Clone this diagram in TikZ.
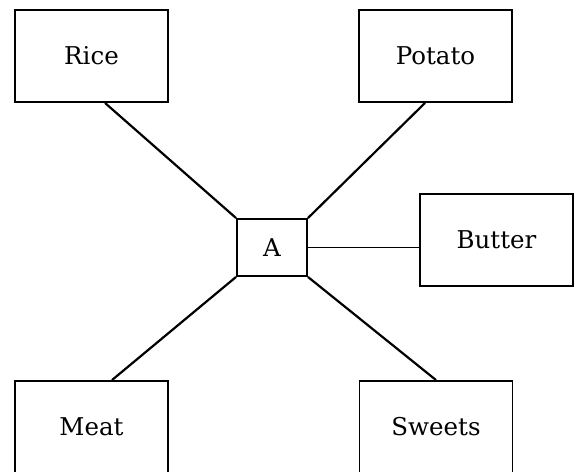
\documentclass[tikz,border=0pt]{standalone}
\usepackage{tikz}
\usepackage{fontspec}
\setmainfont{DejaVu Serif}
\usetikzlibrary{calc}

\begin{document}
\begin{tikzpicture}[x=1pt,y=-1pt,
  food/.style={draw, line width=1.9pt, minimum width=153pt, minimum height=92pt, inner sep=0pt, font=\fontsize{24.5}{29}\selectfont},
  hub/.style={draw, line width=1.9pt, minimum width=70pt, minimum height=57pt, inner sep=0pt, font=\fontsize{24.5}{29}\selectfont},
  link/.style={line width=2.2pt}]
\useasboundingbox (0,0) rectangle (578,471);
\node[food] (rice) at (91.5,56) {Rice};
\node[food] (potato) at (435.5,56) {Potato};
\node[food] (butter) at (496.5,240) {Butter};
\node[hub] (a) at (272,247.5) {A};
\node[food] (meat) at (91.5,427) {Meat};
\node[food] (sweets) at (436,427) {Sweets};
\draw[link] (a.north west) -- ([xshift=13.5pt]rice.south); %%Rice
\draw[link] (a.north east) -- ([xshift=-10.5pt]potato.south); %%Potato
\draw[line width=1.5pt] (a.east) -- (a.east -| butter.west); %%Butter
\draw[link] (a.south west) -- ([xshift=20.5pt]meat.north); %%Meat
\draw[link] (a.south east) -- (sweets.north); %%Sweets
\end{tikzpicture}
\end{document}
